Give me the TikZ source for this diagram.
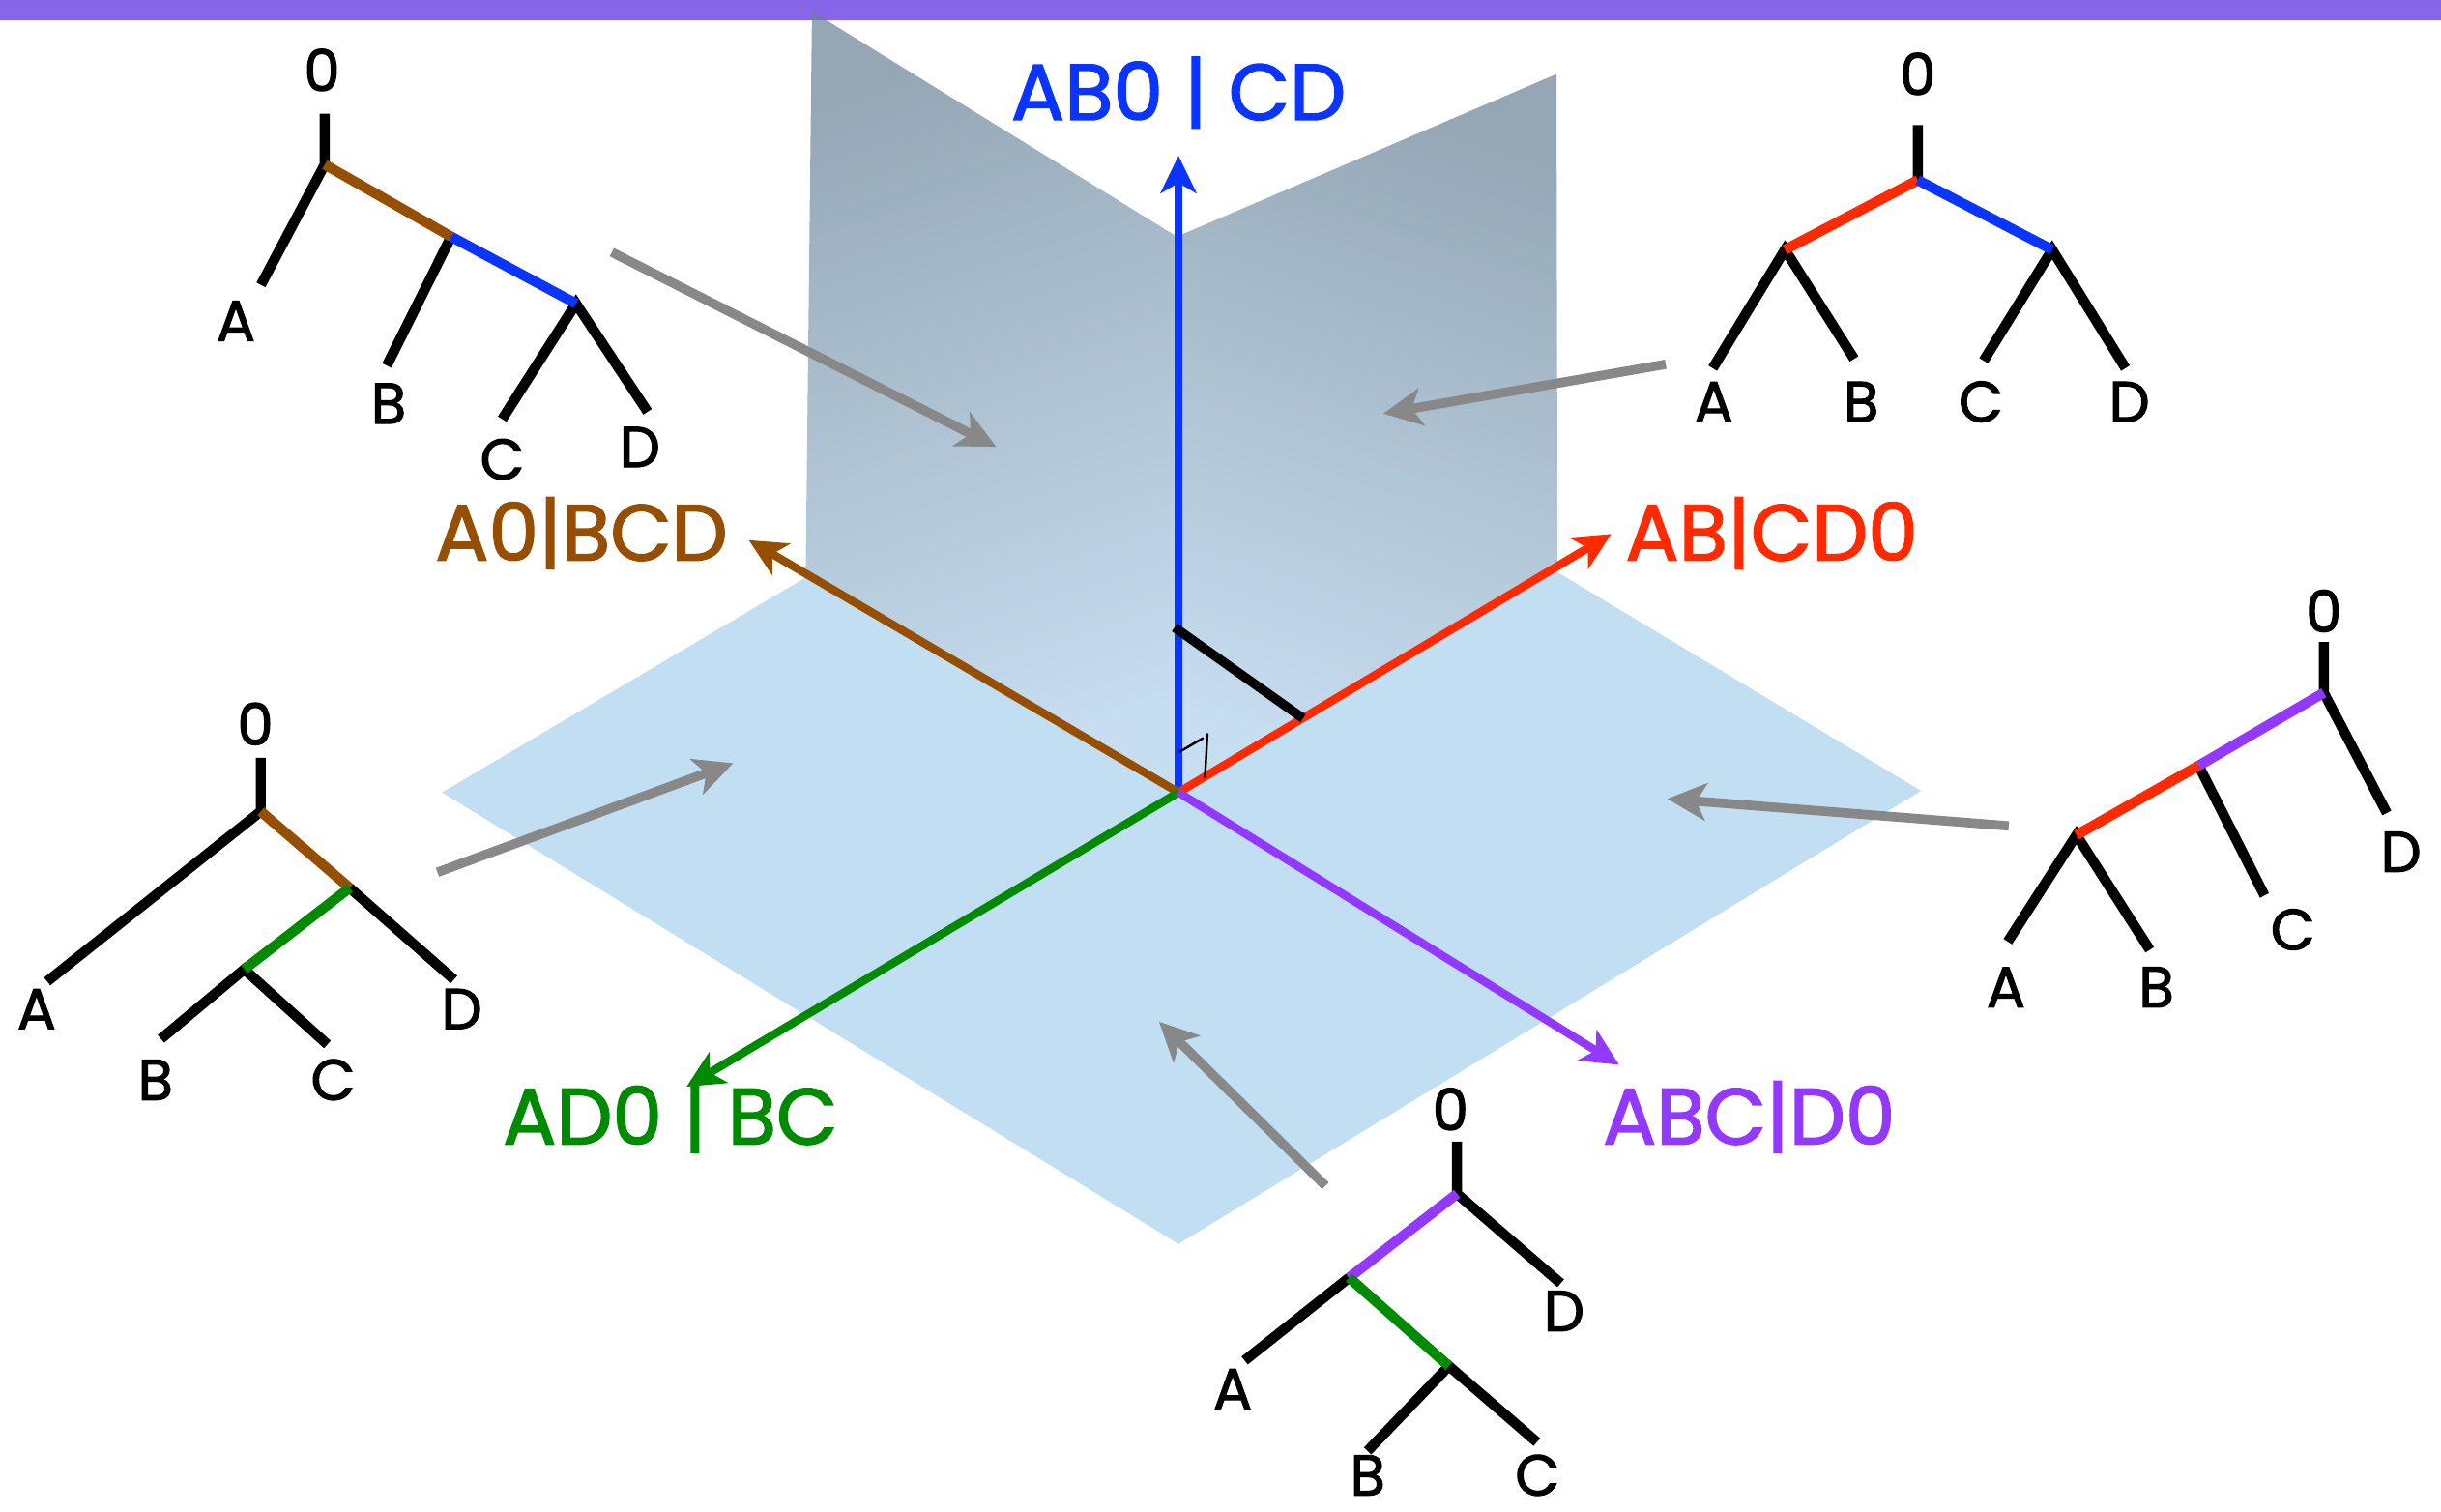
\documentclass[tikz,border=0pt]{standalone}
\usepackage{fontspec}
\setmainfont{Poppins}[FakeBold=1.8]
\usetikzlibrary{arrows.meta}
\definecolor{barpurple}{HTML}{8766E8}
\definecolor{hplane}{HTML}{C2DEF3}
\definecolor{vtop}{RGB}{104,130,150}
\definecolor{vbot}{RGB}{175,207,233}
\definecolor{cblue}{HTML}{0A34FF}
\definecolor{cred}{HTML}{FF2A00}
\definecolor{cbrown}{HTML}{964F00}
\definecolor{cgreen}{HTML}{008A00}
\definecolor{cpurple}{HTML}{9238FF}
\definecolor{ptgray}{HTML}{888888}

\begin{document}
\begin{tikzpicture}[
  x=0.2mm,y=-0.2mm,
  br/.style={line width=1.3mm},
  axarr/.style={line width=1.05mm,-{Stealth[length=4.8mm,width=4.6mm,inset=1.3mm]}},
  ptr/.style={draw=ptgray,line width=1.2mm,-{Stealth[length=5mm,width=4.8mm,inset=1.3mm]}},
  leaf/.style={font=\fontsize{21}{21}\selectfont,inner sep=0pt,anchor=base},
  split/.style={font=\fontsize{29}{29}\selectfont,inner sep=0pt,anchor=base}
]
\useasboundingbox (0,0) rectangle (1568,971);
\fill[barpurple] (0,0) rectangle (1568,13);

% planes
\coordinate (O) at (757,509);
\coordinate (hl) at (284,509);
\coordinate (hb) at (757,799);
\coordinate (hr) at (1234,508);
\coordinate (vl) at (517.5,371);
\coordinate (vr) at (1000.5,367.6);
\fill[hplane] (hl) -- (vl) -- (O) -- (vr) -- (hr) -- (hb) -- cycle;
\shade[top color=vtop,bottom color=vbot,shading angle=18,fill opacity=0.7]
  (521.6,7.3) -- (756,152) -- (O) -- (vl) -- cycle;
\shade[top color=vtop,bottom color=vbot,shading angle=-18,fill opacity=0.7]
  (756,152) -- (999.8,47.6) -- (vr) -- (O) -- cycle;

% axes
\coordinate (up) at (757,100);
\coordinate (rt) at (1035,343);
\coordinate (lf) at (481,347);
\coordinate (dl) at (441,698);
\coordinate (dr) at (1040,684);
\draw[axarr,cblue] (O) -- (up);
\draw[axarr,cred] (O) -- (rt);
\draw[axarr,cbrown] (O) -- (lf);
\draw[axarr,cgreen] (O) -- (dl);
\draw[axarr,cpurple] (O) -- (dr);
\node[split,text=cblue] (ab) at (757,77) {AB0 | CD};
\node[split,text=cred] (cd) at (1138,360) {AB|CD0};
\node[split,text=cbrown] (bcd) at (373.5,360) {A0|BCD};
\node[split,text=cgreen] (bc) at (430.5,735) {AD0 | BC};
\node[split,text=cpurple] (abc) at (1123.5,735) {ABC|D0};

\coordinate (pu) at (754.5,403);
\coordinate (pr) at (837,461.4);
\draw[line width=1.2mm] (pu) -- (pr);
\draw[line width=0.3mm] (757.6,483) -- (773,474) (775.6,471) -- (774,500);

% tree 1
\coordinate (t1s) at (208.6,73);
\coordinate (t1r) at (208.6,105.7);
\coordinate (t1n) at (289.8,152);
\coordinate (t1m) at (370,195);
\coordinate (t1a) at (167.6,183);
\coordinate (t1b) at (248.5,234.8);
\coordinate (t1c) at (322.6,269.2);
\coordinate (t1d) at (416,264.5);
\draw[br] (t1s) -- (t1r) -- (t1a) (t1n) -- (t1b) (t1c) -- (t1m) -- (t1d);
\draw[br,cbrown] (t1r) -- (t1n);
\draw[br,cblue] (t1n) -- (t1m);
\node[leaf] (t1o) at (206.8,58.5) {0};
\node[leaf] (t1A) at (151.5,219) {A};
\node[leaf] (t1B) at (249.6,272) {B};
\node[leaf] (t1C) at (322.6,308) {C};
\node[leaf] (t1D) at (411,300) {D};

% tree 2
\coordinate (t2s) at (1231.9,80.3);
\coordinate (t2r) at (1231.9,115.7);
\coordinate (t2n) at (1146.6,160.4);
\coordinate (t2m) at (1318.2,160.4);
\coordinate (t2a) at (1100.2,236.5);
\coordinate (t2b) at (1191,230.5);
\coordinate (t2c) at (1274.2,231.7);
\coordinate (t2d) at (1365.3,236.5);
\draw[br] (t2s) -- (t2r) (t2a) -- (t2n) -- (t2b) (t2c) -- (t2m) -- (t2d);
\draw[br,cred] (t2r) -- (t2n);
\draw[br,cblue] (t2r) -- (t2m);
\node[leaf] (t2o) at (1231.9,61) {0};
\node[leaf] (t2A) at (1100.9,271) {A};
\node[leaf] (t2B) at (1195.5,271) {B};
\node[leaf] (t2C) at (1272.4,271) {C};
\node[leaf] (t2D) at (1367.8,271) {D};

% tree 3
\coordinate (t3s) at (167.5,486.7);
\coordinate (t3r) at (167.5,521.2);
\coordinate (t3n) at (224.6,570.3);
\coordinate (t3m) at (156.9,622.6);
\coordinate (t3a) at (30.3,630.4);
\coordinate (t3b) at (103.4,667.3);
\coordinate (t3c) at (210.3,670.9);
\coordinate (t3d) at (291.6,629.2);
\draw[br] (t3s) -- (t3r) -- (t3a) (t3n) -- (t3d) (t3b) -- (t3m) -- (t3c);
\draw[br,cbrown] (t3r) -- (t3n);
\draw[br,cgreen] (t3n) -- (t3m);
\node[leaf] (t3o) at (164,478.5) {0};
\node[leaf] (t3A) at (23.5,661) {A};
\node[leaf] (t3B) at (99.8,706.5) {B};
\node[leaf] (t3C) at (213.9,706.5) {C};
\node[leaf] (t3D) at (296.6,661) {D};

% tree 4
\coordinate (t4s) at (1492.7,412.4);
\coordinate (t4r) at (1492.7,445);
\coordinate (t4n) at (1412.3,491.8);
\coordinate (t4m) at (1333.8,536.4);
\coordinate (t4a) at (1289.7,604.8);
\coordinate (t4b) at (1380.9,610.1);
\coordinate (t4c) at (1454.6,575.2);
\coordinate (t4d) at (1533.2,522.2);
\draw[br] (t4s) -- (t4r) -- (t4d) (t4n) -- (t4c) (t4a) -- (t4m) -- (t4b);
\draw[br,cpurple] (t4r) -- (t4n);
\draw[br,cred] (t4n) -- (t4m);
\node[leaf] (t4o) at (1492.7,406) {0};
\node[leaf] (t4A) at (1288.5,647) {A};
\node[leaf] (t4B) at (1385.2,647) {B};
\node[leaf] (t4C) at (1472.8,610) {C};
\node[leaf] (t4D) at (1542.3,560) {D};

% tree 5
\coordinate (t5s) at (935.9,733.3);
\coordinate (t5r) at (935.9,766.8);
\coordinate (t5n) at (866.6,820.7);
\coordinate (t5m) at (930.7,877.5);
\coordinate (t5a) at (799.5,873.9);
\coordinate (t5b) at (878.5,932);
\coordinate (t5c) at (987.2,926.3);
\coordinate (t5d) at (1002.5,824.3);
\draw[br] (t5s) -- (t5r) -- (t5d) (t5n) -- (t5a) (t5b) -- (t5m) -- (t5c);
\draw[br,cpurple] (t5r) -- (t5n);
\draw[br,cgreen] (t5n) -- (t5m);
\node[leaf] (t5o) at (931.7,726) {0};
\node[leaf] (t5A) at (791.8,905) {A};
\node[leaf] (t5B) at (878.5,960.5) {B};
\node[leaf] (t5C) at (987.5,960.5) {C};
\node[leaf] (t5D) at (1004.7,855) {D};

% pointers from trees to regions
\coordinate (p1) at (393,162);   \coordinate (q1) at (640,287);
\coordinate (p2) at (1070,234);  \coordinate (q2) at (888.5,265.7);
\coordinate (p3) at (281,560.3); \coordinate (q3) at (471,490.2);
\coordinate (p4) at (1290.3,530.5); \coordinate (q4) at (1071,513.1);
\coordinate (p5) at (851.4,761.7); \coordinate (q5) at (744.5,656.3);
\foreach \i in {1,...,5} \draw[ptr] (p\i) -- (q\i);
\end{tikzpicture}
\end{document}
